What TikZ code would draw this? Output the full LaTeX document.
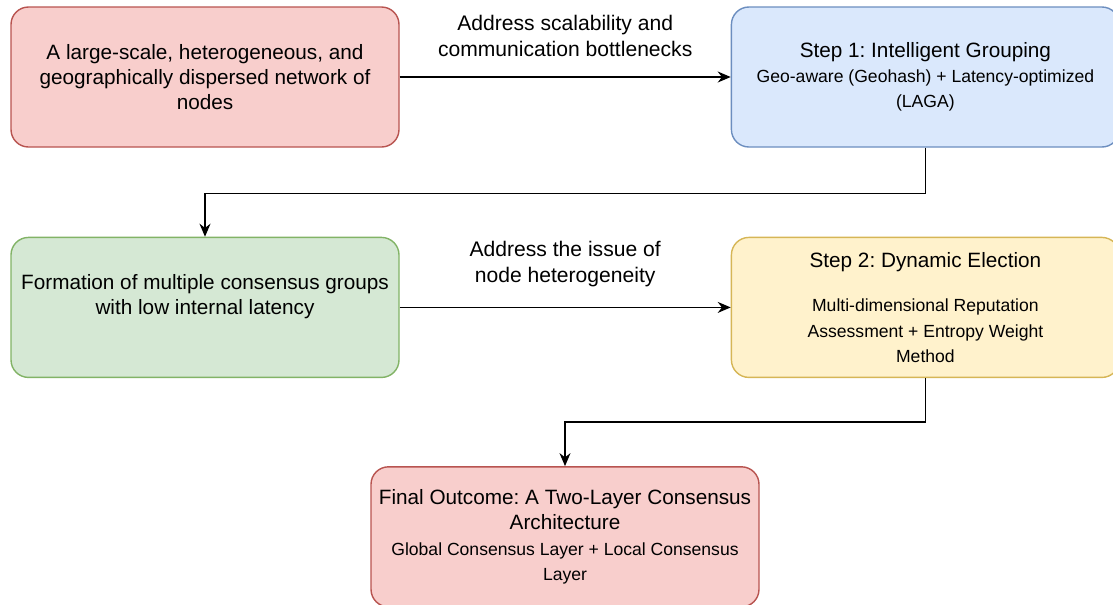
\documentclass[tikz,border=0pt]{standalone}
\usepackage{fontspec}
\setmainfont{Liberation Sans}
\usetikzlibrary{arrows.meta,positioning}

\definecolor{redfill}{HTML}{F8CECC}
\definecolor{redline}{HTML}{B85450}
\definecolor{bluefill}{HTML}{DAE8FC}
\definecolor{blueline}{HTML}{6C8EBF}
\definecolor{greenfill}{HTML}{D5E8D4}
\definecolor{greenline}{HTML}{82B366}
\definecolor{yellowfill}{HTML}{FFF2CC}
\definecolor{yellowline}{HTML}{D6B656}

\newcommand{\subline}[1]{{\fontsize{10}{14.5}\selectfont #1}}
\frenchspacing

\begin{document}
\begin{tikzpicture}[
    node distance=1.78cm and 6.62cm,
    box/.style={draw, thick, rounded corners=0.35cm, align=center, minimum width=7.76cm, minimum height=2.8cm, font=\fontsize{11.8}{14.3}\selectfont},
    note/.style={align=center, font=\fontsize{12}{14.7}\selectfont},
    link/.style={-{Stealth[length=2.6mm, width=2.2mm]}, thick}
]
\useasboundingbox (0,0) rectangle (22.26,-12.08);
\node[box, fill=redfill, draw=redline] (network) at (4.1,-1.54) {A large-scale, heterogeneous, and\\geographically dispersed network of\\nodes};
\node[box, right=of network, fill=bluefill, draw=blueline] (grouping) {Step 1: Intelligent Grouping\\\subline{Geo-aware (Geohash) + Latency-optimized}\\\subline{(LAGA)}};
% empty last line lifts the text a little above the middle
\node[box, below=of network, fill=greenfill, draw=greenline] (groups) {Formation of multiple consensus groups\\with low internal latency\\[0pt]\mbox{}};
\node[box, below=of grouping, fill=yellowfill, draw=yellowline] (election) {Step 2: Dynamic Election\\[11pt]\subline{Multi-dimensional Reputation}\\\subline{Assessment + Entropy Weight}\\\subline{Method}};
\node[box, below=1.76cm of groups, xshift=7.2cm, fill=redfill, draw=redline] (outcome) {Final Outcome: A Two-Layer Consensus\\Architecture\\\subline{Global Consensus Layer + Local Consensus}\\\subline{Layer}};

\draw[link] (network) -- node[note, midway, above=8pt] (scaling) {Address scalability and\\communication bottlenecks} (grouping);
\draw[link] (grouping.south) -- ++(0,-0.92) -| (groups.north);
\draw[link] (groups) -- node[note, midway, above=8pt] (hetero) {Address the issue of\\node heterogeneity} (election);
\draw[link] (election.south) -- ++(0,-0.88) -| (outcome.north);
\end{tikzpicture}
\end{document}
